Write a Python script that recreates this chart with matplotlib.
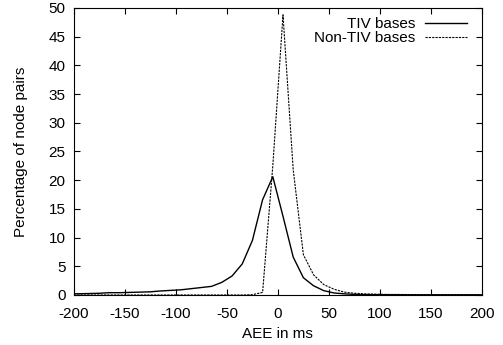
import matplotlib
matplotlib.use('Agg')
import matplotlib.pyplot as plt

plt.rcParams['font.family'] = ['Liberation Sans', 'DejaVu Sans']
plt.rcParams['font.size'] = 11
plt.rcParams['axes.unicode_minus'] = False

# bin centres in ms
tiv_x = [-200, -185, -175, -165, -155, -145, -135, -125, -115, -105, -95, -85, -75, -65,
         -55, -45, -35, -25, -15, -5, 5, 15, 25, 35, 45, 55, 65, 75, 85, 95,
         105, 125, 150, 175, 200]
tiv_y = [0.2, 0.25, 0.3, 0.4, 0.4, 0.45, 0.5, 0.55, 0.7, 0.8, 0.9, 1.1, 1.3, 1.5,
         2.2, 3.3, 5.4, 9.5, 16.6, 20.6, 13.7, 6.6, 3.0, 1.6, 0.75, 0.35, 0.2, 0.1, 0.05, 0.05,
         0.05, 0.03, 0.02, 0.02, 0.02]

non_x = [-200, -150, -100, -50, -35, -25, -15, -5, 5, 15, 25, 35, 45, 55, 65, 75, 85, 95,
         105, 125, 150, 175, 200]
non_y = [0.0, 0.0, 0.0, 0.0, 0.0, 0.05, 0.45, 22.5, 48.8, 21.8, 7.0, 3.5, 1.8, 1.0, 0.5, 0.3, 0.2, 0.15,
         0.1, 0.08, 0.05, 0.05, 0.05]

fig = plt.figure(figsize=(5.03, 3.45), dpi=100)
ax = fig.add_axes([0.147, 0.145, 0.811, 0.832])

ax.plot(tiv_x, tiv_y, color='black', linewidth=1.0, label='TIV bases')
ax.plot(non_x, non_y, color='black', linewidth=0.8, linestyle=(0, (2, 1)), label='Non-TIV bases')

ax.set_xlim(-200, 200)
ax.set_ylim(0, 50)
ax.set_xticks(range(-200, 201, 50))
ax.set_yticks(range(0, 51, 5))
ax.tick_params(direction='in', top=True, right=True, length=4, width=0.8)
ax.tick_params(axis='x', pad=9)
ax.tick_params(axis='y', pad=6)
ax.set_xlabel('AEE in ms', labelpad=4)
ax.set_ylabel('Percentage of node pairs', labelpad=15)
ax.legend(loc='upper right', bbox_to_anchor=(0.985, 1.0), frameon=False, markerfirst=False,
          handlelength=2.7, borderaxespad=0.2, labelspacing=0.0, handletextpad=0.65)

fig.savefig('out.png', dpi=100)
